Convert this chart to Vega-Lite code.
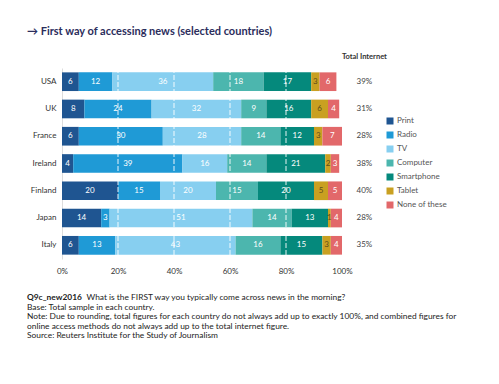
{
  "$schema": "https://vega.github.io/schema/vega-lite/v6.json",
  "width": 280,
  "height": 191,
  "autosize": {"type": "none"},
  "padding": {"left": 62, "top": 68, "right": 157, "bottom": 125},
  "background": "white",
  "title": {
    "text": "→ First way of accessing news (selected countries)",
    "anchor": "start",
    "frame": "group",
    "dx": -35,
    "offset": 16,
    "font": "Lato",
    "fontSize": 11,
    "fontWeight": "bold",
    "color": "#2b2d5c"
  },
  "config": {"view": {"stroke": null}, "font": "Lato"},
  "datasets": {
    "shares": [
      {"country": "USA", "type": "Print", "ord": 1, "value": 6},
      {"country": "USA", "type": "Radio", "ord": 2, "value": 12},
      {"country": "USA", "type": "TV", "ord": 3, "value": 36},
      {"country": "USA", "type": "Computer", "ord": 4, "value": 18},
      {"country": "USA", "type": "Smartphone", "ord": 5, "value": 17},
      {"country": "USA", "type": "Tablet", "ord": 6, "value": 3},
      {"country": "USA", "type": "None of these", "ord": 7, "value": 6},
      {"country": "UK", "type": "Print", "ord": 1, "value": 8},
      {"country": "UK", "type": "Radio", "ord": 2, "value": 24},
      {"country": "UK", "type": "TV", "ord": 3, "value": 32},
      {"country": "UK", "type": "Computer", "ord": 4, "value": 9},
      {"country": "UK", "type": "Smartphone", "ord": 5, "value": 16},
      {"country": "UK", "type": "Tablet", "ord": 6, "value": 6},
      {"country": "UK", "type": "None of these", "ord": 7, "value": 4},
      {"country": "France", "type": "Print", "ord": 1, "value": 6},
      {"country": "France", "type": "Radio", "ord": 2, "value": 30},
      {"country": "France", "type": "TV", "ord": 3, "value": 28},
      {"country": "France", "type": "Computer", "ord": 4, "value": 14},
      {"country": "France", "type": "Smartphone", "ord": 5, "value": 12},
      {"country": "France", "type": "Tablet", "ord": 6, "value": 3},
      {"country": "France", "type": "None of these", "ord": 7, "value": 7},
      {"country": "Ireland", "type": "Print", "ord": 1, "value": 4},
      {"country": "Ireland", "type": "Radio", "ord": 2, "value": 39},
      {"country": "Ireland", "type": "TV", "ord": 3, "value": 16},
      {"country": "Ireland", "type": "Computer", "ord": 4, "value": 14},
      {"country": "Ireland", "type": "Smartphone", "ord": 5, "value": 21},
      {"country": "Ireland", "type": "Tablet", "ord": 6, "value": 2},
      {"country": "Ireland", "type": "None of these", "ord": 7, "value": 3},
      {"country": "Finland", "type": "Print", "ord": 1, "value": 20},
      {"country": "Finland", "type": "Radio", "ord": 2, "value": 15},
      {"country": "Finland", "type": "TV", "ord": 3, "value": 20},
      {"country": "Finland", "type": "Computer", "ord": 4, "value": 15},
      {"country": "Finland", "type": "Smartphone", "ord": 5, "value": 20},
      {"country": "Finland", "type": "Tablet", "ord": 6, "value": 5},
      {"country": "Finland", "type": "None of these", "ord": 7, "value": 5},
      {"country": "Japan", "type": "Print", "ord": 1, "value": 14},
      {"country": "Japan", "type": "Radio", "ord": 2, "value": 3},
      {"country": "Japan", "type": "TV", "ord": 3, "value": 51},
      {"country": "Japan", "type": "Computer", "ord": 4, "value": 14},
      {"country": "Japan", "type": "Smartphone", "ord": 5, "value": 13},
      {"country": "Japan", "type": "Tablet", "ord": 6, "value": 1},
      {"country": "Japan", "type": "None of these", "ord": 7, "value": 4},
      {"country": "Italy", "type": "Print", "ord": 1, "value": 6},
      {"country": "Italy", "type": "Radio", "ord": 2, "value": 13},
      {"country": "Italy", "type": "TV", "ord": 3, "value": 43},
      {"country": "Italy", "type": "Computer", "ord": 4, "value": 16},
      {"country": "Italy", "type": "Smartphone", "ord": 5, "value": 15},
      {"country": "Italy", "type": "Tablet", "ord": 6, "value": 3},
      {"country": "Italy", "type": "None of these", "ord": 7, "value": 4}
    ],
    "totals": [
      {"country": "USA", "total": "39%"},
      {"country": "UK", "total": "31%"},
      {"country": "France", "total": "28%"},
      {"country": "Ireland", "total": "38%"},
      {"country": "Finland", "total": "40%"},
      {"country": "Japan", "total": "28%"},
      {"country": "Italy", "total": "35%"}
    ],
    "grid": [{"g": 20}, {"g": 40}, {"g": 60}, {"g": 80}]
  },
  "layer": [
    {
      "data": {"name": "shares"},
      "transform": [
        {"stack": "value", "groupby": ["country"], "sort": [{"field": "ord"}], "as": ["v0", "v1"]},
        {"calculate": "(datum.v0 + datum.v1) / 2", "as": "mid"}
      ],
      "layer": [
        {
          "mark": {"type": "bar"},
          "encoding": {
            "y": {
              "field": "country", "type": "nominal",
              "sort": ["USA", "UK", "France", "Ireland", "Finland", "Japan", "Italy"],
              "scale": {"paddingInner": 0.315, "paddingOuter": 0.16},
              "axis": {"title": null, "ticks": false, "domain": true, "domainColor": "#dddddd", "labelPadding": 6, "labelFontSize": 8, "labelColor": "#333333", "labelFont": "Lato"}
            },
            "x": {
              "field": "v0", "type": "quantitative",
              "scale": {"domain": [0, 100], "nice": false},
              "axis": {"title": null, "values": [0, 20, 40, 60, 80, 100], "labelExpr": "datum.value + '%'", "grid": false, "domain": false, "ticks": false, "labelPadding": 8, "labelFontSize": 8, "labelColor": "#333333", "labelFont": "Lato", "labelFlush": false}
            },
            "x2": {"field": "v1"},
            "color": {
              "field": "type", "type": "nominal",
              "scale": {
                "domain": ["Print", "Radio", "TV", "Computer", "Smartphone", "Tablet", "None of these"],
                "range": ["#1f5591", "#1f9ad6", "#87cff0", "#4cb6ae", "#05897c", "#c9a021", "#e2686a"]
              },
              "legend": {
                "orient": "none", "legendX": 324, "legendY": 49, "title": null,
                "symbolType": "square", "symbolSize": 49, "symbolStrokeWidth": 0,
                "labelFontSize": 8, "labelColor": "#555555", "labelFont": "Lato",
                "rowPadding": 6, "labelOffset": 3
              }
            },
            "order": {"field": "ord", "type": "quantitative"}
          }
        },
        {
          "mark": {"type": "text", "fontSize": 8, "font": "Lato", "baseline": "middle", "align": "center"},
          "encoding": {
            "y": {"field": "country", "type": "nominal", "sort": ["USA", "UK", "France", "Ireland", "Finland", "Japan", "Italy"]},
            "x": {"field": "mid", "type": "quantitative"},
            "text": {"field": "value", "type": "quantitative"},
            "color": {"condition": {"test": "datum.type === 'Tablet'", "value": "#5e4e1c"}, "value": "white"}
          }
        }
      ]
    },
    {
      "data": {"name": "grid"},
      "mark": {"type": "rule", "color": "white", "strokeWidth": 1, "strokeDash": [5, 2], "opacity": 0.9},
      "encoding": {"x": {"field": "g", "type": "quantitative"}}
    },
    {
      "data": {"name": "totals"},
      "mark": {"type": "text", "fontSize": 8, "font": "Lato", "color": "#444444", "align": "center", "baseline": "middle", "clip": false},
      "encoding": {
        "y": {"field": "country", "type": "nominal", "sort": ["USA", "UK", "France", "Ireland", "Finland", "Japan", "Italy"]},
        "x": {"datum": 108},
        "text": {"field": "total", "type": "nominal"}
      }
    },
    {
      "data": {"values": [{"label": "Total Internet"}]},
      "mark": {"type": "text", "fontSize": 7.5, "font": "Lato", "fontWeight": "bold", "color": "#333333", "align": "center", "baseline": "middle"},
      "encoding": {
        "x": {"datum": 108},
        "y": {"value": -11},
        "text": {"field": "label", "type": "nominal"}
      }
    },
    {
      "data": {"values": [{"label": "Q9c_new2016"}]},
      "mark": {"type": "text", "fontSize": 8.4, "font": "Lato", "fontWeight": "bold", "color": "#222222", "align": "left", "baseline": "alphabetic"},
      "encoding": {
        "x": {"value": -35},
        "y": {"value": 232},
        "text": {"field": "label", "type": "nominal"}
      }
    },
    {
      "data": {"values": [{"label": "What is the FIRST way you typically come across news in the morning?"}]},
      "mark": {"type": "text", "fontSize": 8.4, "font": "Lato", "color": "#222222", "align": "left", "baseline": "alphabetic"},
      "encoding": {
        "x": {"value": 24.5},
        "y": {"value": 232},
        "text": {"field": "label", "type": "nominal"}
      }
    },
    {
      "data": {"values": [{"label": "notes"}]},
      "mark": {
        "type": "text", "fontSize": 8.4, "font": "Lato", "color": "#222222", "align": "left", "baseline": "alphabetic", "lineHeight": 9.5,
        "text": [
          "Base: Total sample in each country.",
          "Note: Due to rounding, total figures for each country do not always add up to exactly 100%, and combined figures for",
          "online access methods do not always add up to the total internet figure.",
          "Source: Reuters Institute for the Study of Journalism"
        ]
      },
      "encoding": {
        "x": {"value": -35},
        "y": {"value": 241.5}
      }
    }
  ]
}
